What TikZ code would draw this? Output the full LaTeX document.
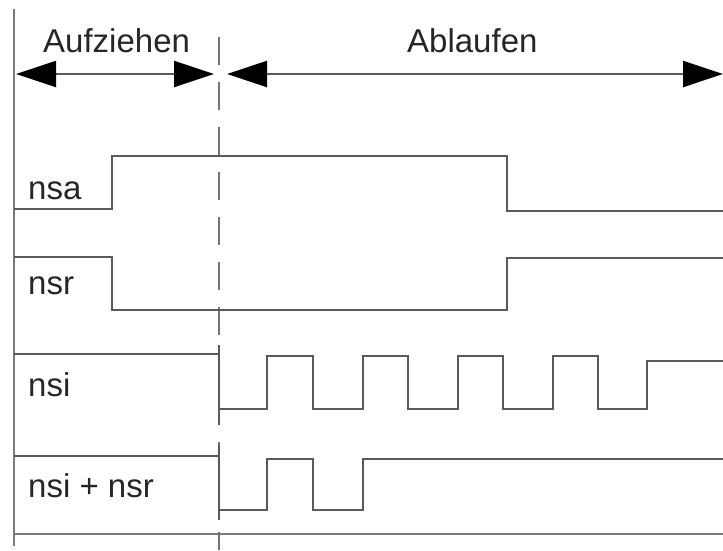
\documentclass[tikz,border=0pt]{standalone}
\usepackage{fontspec}
\setmainfont{Liberation Sans}
\usetikzlibrary{arrows.meta}
\definecolor{linegray}{HTML}{5A5A5A}
\definecolor{textgray}{HTML}{262626}
\tikzset{
  sig/.style={draw=linegray, line width=2.6pt, line join=miter},
  frame/.style={draw=linegray!80, line width=2.8pt},
  dashline/.style={draw=linegray!85, line width=2.6pt, dash pattern=on 28pt off 17pt, dash phase=-10pt},
  spanarrow/.style={draw=linegray, line width=2.4pt, {Triangle[length=40pt,width=26pt,color=black]}-{Triangle[length=40pt,width=26pt,color=black]}},
  lbl/.style={text=textgray, anchor=base west, inner sep=0pt, font=\fontsize{33}{36}\selectfont}
}
\begin{document}
\begin{tikzpicture}[x=1pt,y=-1pt]
\useasboundingbox (0,0) rectangle (723,550);
% frame lines
\coordinate (ltop) at (14,9);
\coordinate (lbot) at (14,546);
\draw[frame] (ltop) -- (lbot);
\coordinate (bl) at (14,534);
\coordinate (br) at (723,534);
\draw[frame] (bl) -- (br);
% dashed divider
\coordinate (dtop) at (219,27);
\coordinate (dbot) at (219,550);
\draw[dashline] (dtop) -- (dbot);
% span arrows
\coordinate (a1l) at (16,74);
\coordinate (a1r) at (214,74);
\coordinate (a2l) at (227,74);
\coordinate (a2r) at (723,74);
\draw[spanarrow] (a1l) -- (a1r);
\draw[spanarrow] (a2l) -- (a2r);
\node[lbl] (aufz) at (43,52) {Aufziehen};
\node[lbl] (abl) at (407,52) {Ablaufen};
% signal labels
\node[lbl] (nsa) at (28,199) {nsa};
\node[lbl] (nsr) at (28,294) {nsr};
\node[lbl] (nsi) at (28,396) {nsi};
\node[lbl] (nsinsr) at (28,497) {nsi + nsr};
% nsa
\draw[sig] (14,209) -- (112,209) -- (112,156) -- (507,156) -- (507,211) -- (723,211);
% nsr
\draw[sig] (14,257) -- (112,257) -- (112,310) -- (507,310) -- (507,258) -- (723,258);
% nsi
\draw[sig] (14,354) -- (219,354) -- (219,409) -- (267,409) -- (267,356) -- (313,356) -- (313,409)
  -- (363,409) -- (363,356) -- (408,356) -- (408,409)
  -- (458,409) -- (458,356) -- (503,356) -- (503,409)
  -- (553,409) -- (553,356) -- (598,356) -- (598,409)
  -- (647,409) -- (647,361) -- (723,361);
\draw[sig] (219,345) -- (219,425);
% nsi + nsr
\draw[sig] (14,456) -- (219,456) -- (219,510) -- (267,510) -- (267,459) -- (313,459) -- (313,510)
  -- (363,510) -- (363,459) -- (723,459);
\draw[sig] (219,445) -- (219,520);
\end{tikzpicture}
\end{document}
